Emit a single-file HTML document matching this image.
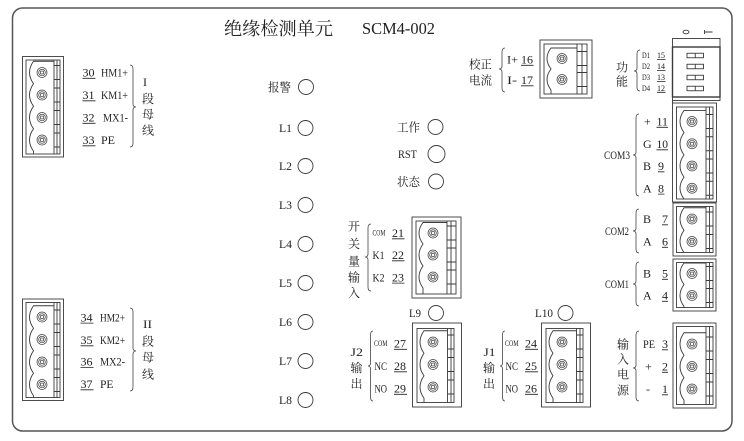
<!DOCTYPE html>
<html><head><meta charset="utf-8"><style>
html,body{margin:0;padding:0;background:#fff;}
svg{display:block;}
text{font-family:"Liberation Serif","Noto Serif CJK SC",serif;fill:#222;font-size:12px;}
.s{font-size:8px;}
.k{text-anchor:middle;}
</style></head><body>
<svg width="744" height="441" viewBox="0 0 744 441" xmlns="http://www.w3.org/2000/svg">
<defs>
<g id="sc" fill="none" stroke="#444" stroke-width="0.75"><circle r="5"/><circle r="3.3"/><rect x="-1.4" y="-1.4" width="2.8" height="2.8"/></g>
</defs>
<rect width="744" height="441" fill="#fff"/>
<rect x="12.5" y="8" width="719.5" height="423" rx="10" fill="none" stroke="#555" stroke-width="1.5"/>
<g fill="none" stroke="#3a3a3a" stroke-width="0.9">
<!-- C1 -->
<rect x="22.5" y="56.5" width="41" height="100.5"/>
<rect x="26" y="60" width="34" height="94"/>
<path d="M54,61.25 L33.5,61.25 Q25.5,72.5 33.5,83.75 Q25.5,95 33.5,106.25 Q25.5,117.5 33.5,128.75 Q25.5,140 33.5,151.25 L33.5,154 M54,60 V154 M57,60 V154 M54,65.5 H60 M54,79.5 H60 M54,88 H60 M54,102 H60 M54,110.5 H60 M54,124.5 H60 M54,133 H60 M54,147 H60"/>
<!-- C2 -->
<rect x="22.5" y="299" width="41" height="101.5"/>
<rect x="26" y="302.5" width="34" height="95"/>
<path d="M54,305.75 L33.5,305.75 Q25.5,317 33.5,328.25 Q25.5,339.5 33.5,350.75 Q25.5,362 33.5,373.25 Q25.5,384.5 33.5,395.75 L33.5,397.5 M54,302.5 V397.5 M57,302.5 V397.5 M54,310 H60 M54,324 H60 M54,332.5 H60 M54,346.5 H60 M54,355 H60 M54,369 H60 M54,377.5 H60 M54,391.5 H60"/>
<!-- C3 -->
<rect x="540" y="40" width="52" height="58"/>
<rect x="544" y="44" width="43" height="50"/>
<path d="M577,48 L551,48 Q543,58.5 551,69 Q543,79.5 551,90 L551,94 M577,44 V94 M582,44 V94 M577,51.5 H587 M577,65.5 H587 M577,72.5 H587 M577,86.5 H587"/>
<!-- C4 -->
<rect x="412" y="217" width="49" height="81"/>
<rect x="416" y="221" width="40" height="73"/>
<path d="M447,222.5 L423,222.5 Q415,233 423,244 Q415,255 423,266 Q415,277 423,288 L423,294 M447,221 V294 M451,221 V294 M447,226 H456 M447,240 H456 M447,248 H456 M447,262 H456 M447,270 H456 M447,284 H456"/>
<!-- C5 J2 -->
<rect x="412.5" y="323" width="49" height="84"/>
<rect x="417" y="328.5" width="37" height="74"/>
<path d="M447.5,330.75 L424,330.75 Q416,342 424,353.25 Q416,364.5 424,375.75 Q416,387 424,398.25 L424,402.5 M447.5,328.5 V402.5 M451,328.5 V402.5 M447.5,335 H454 M447.5,349 H454 M447.5,357.5 H454 M447.5,371.5 H454 M447.5,380 H454 M447.5,394 H454"/>
<!-- C6 J1 -->
<rect x="541.5" y="323" width="49" height="84"/>
<rect x="546" y="328.5" width="37" height="74"/>
<path d="M576.5,330.75 L553,330.75 Q545,342 553,353.25 Q545,364.5 553,375.75 Q545,387 553,398.25 L553,402.5 M576.5,328.5 V402.5 M580,328.5 V402.5 M576.5,335 H583 M576.5,349 H583 M576.5,357.5 H583 M576.5,371.5 H583 M576.5,380 H583 M576.5,394 H583"/>
<!-- C7 COM3 -->
<rect x="672.5" y="103" width="44" height="99"/>
<rect x="676.5" y="107" width="36.5" height="92"/>
<path d="M706,110.4 L684,110.4 Q676,121.5 684,132.6 Q676,143.75 684,154.9 Q676,166 684,177.1 Q676,188.25 684,199 M706,107 V199 M709.5,107 V199 M706,114.5 H713 M706,128.5 H713 M706,136.75 H713 M706,150.75 H713 M706,159 H713 M706,173 H713 M706,181.25 H713 M706,195.25 H713"/>
<!-- C8 COM2 -->
<rect x="673" y="203" width="43" height="53"/>
<rect x="676.5" y="206.5" width="36.5" height="46"/>
<path d="M706,207.75 L684,207.75 Q676,219 684,230.25 Q676,241.5 684,252.5 M706,206.5 V252.5 M709.5,206.5 V252.5 M706,212 H713 M706,226 H713 M706,234.5 H713 M706,248.5 H713"/>
<!-- C9 COM1 -->
<rect x="673" y="259" width="43" height="52"/>
<rect x="676.5" y="262.5" width="36.5" height="45"/>
<path d="M706,263 L684,263 Q676,273.5 684,284.5 Q676,295.5 684,306.5 L684,307.5 M706,262.5 V307.5 M709.5,262.5 V307.5 M706,266.5 H713 M706,280.5 H713 M706,288.5 H713 M706,302.5 H713"/>
<!-- C10 power -->
<rect x="673" y="323" width="43" height="85"/>
<rect x="676.5" y="326.5" width="36.5" height="78"/>
<path d="M706,332.75 L684,332.75 Q676,344 684,355.25 Q676,366.5 684,377.75 Q676,389 684,400.25 L684,404.5 M706,326.5 V404.5 M709.5,326.5 V404.5 M706,337 H713 M706,351 H713 M706,359.5 H713 M706,373.5 H713 M706,382 H713 M706,396 H713"/>
<!-- DIP -->
<rect x="672.5" y="38.5" width="47.5" height="62"/>
<rect x="672.5" y="47" width="47.5" height="50" stroke-width="1.4"/>
<path d="M672.5,100 V103"/>
<rect x="687" y="53.25" width="16.5" height="4.5"/>
<rect x="687" y="64.25" width="16.5" height="4.5"/>
<rect x="687" y="75.25" width="16.5" height="4.5"/>
<rect x="687" y="86.25" width="16.5" height="4.5"/>
<path d="M695.25,53.25 v4.5 M695.25,64.25 v4.5 M695.25,75.25 v4.5 M695.25,86.25 v4.5"/>
<ellipse cx="686" cy="32" rx="3" ry="1.8"/>
<path d="M704.5,32 H712.5 M704.5,30 V34"/>
<!-- LEDs -->
<circle cx="306" cy="87" r="7.5"/>
<circle cx="305.5" cy="128" r="7.5"/>
<circle cx="305.5" cy="166" r="7.5"/>
<circle cx="305.5" cy="205" r="7.5"/>
<circle cx="305.5" cy="244" r="7.5"/>
<circle cx="305.5" cy="283" r="7.5"/>
<circle cx="305.5" cy="322" r="7.5"/>
<circle cx="305.5" cy="361" r="7.5"/>
<circle cx="305.5" cy="400" r="7.5"/>
<circle cx="435.5" cy="127" r="7.5"/>
<circle cx="436.5" cy="154" r="8.5"/>
<circle cx="436" cy="181.5" r="7.5"/>
<circle cx="436" cy="313" r="7.5"/>
<circle cx="565.5" cy="313" r="7.5"/>
</g>
<!-- braces -->
<g fill="none" stroke="#444" stroke-width="0.8">
<path d="M130,65 Q133,65 133,69 V104 Q133,107 136,107 Q133,107 133,110 V143 Q133,147 130,147"/>
<path d="M130,308 Q133,308 133,312 V348 Q133,351 136,351 Q133,351 133,354 V387 Q133,391 130,391"/>
<path d="M505,48 Q502,48 502,52 V66 Q502,69 499,69 Q502,69 502,72 V88 Q502,92 505,92"/>
<path d="M640,50 Q637,50 637,54 V68 Q637,71 634,71 Q637,71 637,74 V87 Q637,91 640,91"/>
<path d="M639,114 Q636,114 636,118 V152 Q636,155 633,155 Q636,155 636,158 V192 Q636,196 639,196"/>
<path d="M639,209 Q636,209 636,213 V228 Q636,231 633,231 Q636,231 636,234 V249 Q636,253 639,253"/>
<path d="M639,262 Q636,262 636,266 V281 Q636,284 633,284 Q636,284 636,287 V302 Q636,306 639,306"/>
<path d="M639,331 Q636,331 636,335 V365 Q636,368 633,368 Q636,368 636,371 V397 Q636,401 639,401"/>
<path d="M371,224 Q368,224 368,228 V254 Q368,257 365,257 Q368,257 368,260 V287 Q368,291 371,291"/>
<path d="M373,331 Q370.5,331 370.5,335 V363 Q370.5,366 368,366 Q370.5,366 370.5,369 V397 Q370.5,401 373,401"/>
<path d="M505,331 Q502.5,331 502.5,335 V363 Q502.5,366 500,366 Q502.5,366 502.5,369 V397 Q502.5,401 505,401"/>
</g>
<!-- screws -->
<use href="#sc" x="42" y="72.5"/><use href="#sc" x="42" y="95"/><use href="#sc" x="42" y="117.5"/><use href="#sc" x="42" y="140"/>
<use href="#sc" x="42" y="317"/><use href="#sc" x="42" y="339.5"/><use href="#sc" x="42" y="362"/><use href="#sc" x="42" y="384.5"/>
<use href="#sc" x="562" y="58.5"/><use href="#sc" x="562" y="79.5"/>
<use href="#sc" x="433" y="233"/><use href="#sc" x="433" y="255"/><use href="#sc" x="433" y="277"/>
<use href="#sc" x="433" y="342"/><use href="#sc" x="433" y="364.5"/><use href="#sc" x="433" y="387"/>
<use href="#sc" x="562" y="342"/><use href="#sc" x="562" y="364.5"/><use href="#sc" x="562" y="387"/>
<use href="#sc" x="692" y="121.5"/><use href="#sc" x="692" y="143.75"/><use href="#sc" x="692" y="166"/><use href="#sc" x="692" y="188.25"/>
<use href="#sc" x="692" y="219"/><use href="#sc" x="692" y="241.5"/>
<use href="#sc" x="692" y="273.5"/><use href="#sc" x="692" y="295.5"/>
<use href="#sc" x="692" y="344"/><use href="#sc" x="692" y="366.5"/><use href="#sc" x="692" y="389"/>
<!-- underlines -->
<g stroke="#222" stroke-width="0.8">
<path d="M82.5,78.3 H95.5 M82.5,100.8 H95.5 M82.5,123.3 H95.5 M82.5,145.8 H95.5"/>
<path d="M80.5,323.1 H93.5 M80.5,345.8 H93.5 M80.5,367.5 H93.5 M80.5,389.8 H93.5"/>
<path d="M521,65.3 H533.5 M521,85.8 H533.5"/>
<path d="M657,59.5 H665.5 M657,70.5 H665.5 M657,81.5 H665.5 M657,92.3 H665.5"/>
<path d="M656.5,127.3 H668 M656.5,149.8 H668 M658,171.8 H664.5 M658,194.1 H664.5"/>
<path d="M662,224.8 H668 M662,247.3 H668 M662,279.3 H668 M662,301.3 H668"/>
<path d="M662,349.8 H668 M662,372.3 H668 M662,394.8 H668"/>
<path d="M392,238.8 H404.5 M392,260.8 H404.5 M392,283.1 H404.5"/>
<path d="M394,349.3 H407 M394,371.8 H407 M394,394.3 H407"/>
<path d="M525,349.3 H538 M525,371.8 H538 M525,394.3 H538"/>
</g>
<!-- title -->
<text x="224" y="35" style="font-size:18px" textLength="109" lengthAdjust="spacingAndGlyphs">绝缘检测单元</text>
<text x="362" y="34" style="font-size:16.5px" textLength="73" lengthAdjust="spacingAndGlyphs">SCM4-002</text>
<!-- left top -->
<text x="82.5" y="76.5">30</text><text x="101" y="76.5" textLength="27" lengthAdjust="spacingAndGlyphs">HM1+</text>
<text x="82.5" y="99">31</text><text x="101" y="99" textLength="27" lengthAdjust="spacingAndGlyphs">KM1+</text>
<text x="82.5" y="121.5">32</text><text x="103" y="121.5" textLength="25" lengthAdjust="spacingAndGlyphs">MX1-</text>
<text x="82.5" y="144">33</text><text x="101" y="144" textLength="14" lengthAdjust="spacingAndGlyphs">PE</text>
<text x="143" y="86">I</text>
<text class="k" x="148" y="103.1">段</text><text class="k" x="148" y="118.6">母</text><text class="k" x="148" y="134.6">线</text>
<!-- left bottom -->
<text x="80.5" y="321.3">34</text><text x="100" y="321.3" textLength="25" lengthAdjust="spacingAndGlyphs">HM2+</text>
<text x="80.5" y="344">35</text><text x="100" y="344" textLength="25" lengthAdjust="spacingAndGlyphs">KM2+</text>
<text x="80.5" y="365.7">36</text><text x="100" y="365.7" textLength="25" lengthAdjust="spacingAndGlyphs">MX2-</text>
<text x="80.5" y="388">37</text><text x="100" y="388" textLength="13.5" lengthAdjust="spacingAndGlyphs">PE</text>
<text x="143" y="328" textLength="9" lengthAdjust="spacingAndGlyphs">II</text>
<text class="k" x="148" y="345.6">段</text><text class="k" x="148" y="361.6">母</text><text class="k" x="148" y="378.6">线</text>
<!-- LED labels -->
<text x="268" y="91.6" textLength="23" lengthAdjust="spacingAndGlyphs">报警</text>
<text x="279" y="132" textLength="13" lengthAdjust="spacingAndGlyphs">L1</text>
<text x="279" y="170" textLength="13" lengthAdjust="spacingAndGlyphs">L2</text>
<text x="279" y="209" textLength="13" lengthAdjust="spacingAndGlyphs">L3</text>
<text x="279" y="248" textLength="13" lengthAdjust="spacingAndGlyphs">L4</text>
<text x="279" y="287" textLength="13" lengthAdjust="spacingAndGlyphs">L5</text>
<text x="279" y="326" textLength="13" lengthAdjust="spacingAndGlyphs">L6</text>
<text x="279" y="365" textLength="13" lengthAdjust="spacingAndGlyphs">L7</text>
<text x="279" y="404" textLength="13" lengthAdjust="spacingAndGlyphs">L8</text>
<text x="397" y="131.6" textLength="23" lengthAdjust="spacingAndGlyphs">工作</text>
<text x="398" y="158" textLength="19" lengthAdjust="spacingAndGlyphs">RST</text>
<text x="397" y="186.1" textLength="23" lengthAdjust="spacingAndGlyphs">状态</text>
<!-- 校正电流 -->
<text x="469" y="68.6" textLength="23" lengthAdjust="spacingAndGlyphs">校正</text>
<text x="469" y="84.6" textLength="23" lengthAdjust="spacingAndGlyphs">电流</text>
<text x="507" y="63.5" textLength="11" lengthAdjust="spacingAndGlyphs">I+</text><text x="521" y="63.5">16</text>
<text x="507" y="84" textLength="10" lengthAdjust="spacingAndGlyphs">I-</text><text x="521" y="84">17</text>
<!-- 功能 -->
<text class="k" x="622" y="71.6">功</text><text class="k" x="622" y="85.6">能</text>
<text class="s" x="642" y="58.2" textLength="8" lengthAdjust="spacingAndGlyphs">D1</text><text class="s" x="657" y="58.2">15</text>
<text class="s" x="642" y="69.2" textLength="8" lengthAdjust="spacingAndGlyphs">D2</text><text class="s" x="657" y="69.2">14</text>
<text class="s" x="642" y="80.2" textLength="8" lengthAdjust="spacingAndGlyphs">D3</text><text class="s" x="657" y="80.2">13</text>
<text class="s" x="642" y="91" textLength="8" lengthAdjust="spacingAndGlyphs">D4</text><text class="s" x="657" y="91">12</text>
<!-- COM3 -->
<text x="604" y="159" textLength="26" lengthAdjust="spacingAndGlyphs">COM3</text>
<text x="644" y="125.5">+</text><text x="656.5" y="125.5" textLength="11.5" lengthAdjust="spacingAndGlyphs">11</text>
<text x="643" y="148">G</text><text x="656.5" y="148" textLength="11.5" lengthAdjust="spacingAndGlyphs">10</text>
<text x="643" y="170">B</text><text x="658" y="170">9</text>
<text x="643" y="192.3">A</text><text x="658" y="192.3">8</text>
<!-- COM2 / COM1 -->
<text x="605" y="235" textLength="24" lengthAdjust="spacingAndGlyphs">COM2</text>
<text x="643" y="223">B</text><text x="662" y="223">7</text>
<text x="643" y="245.5">A</text><text x="662" y="245.5">6</text>
<text x="605" y="288" textLength="24" lengthAdjust="spacingAndGlyphs">COM1</text>
<text x="643" y="277.5">B</text><text x="662" y="277.5">5</text>
<text x="643" y="299.5">A</text><text x="662" y="299.5">4</text>
<!-- power -->
<text class="k" x="623" y="348.6">输</text><text class="k" x="623" y="363.6">入</text><text class="k" x="623" y="378.6">电</text><text class="k" x="623" y="394.6">源</text>
<text x="643" y="348" textLength="12" lengthAdjust="spacingAndGlyphs">PE</text><text x="662" y="348">3</text>
<text x="645" y="370.5">+</text><text x="662" y="370.5">2</text>
<text x="646" y="393">-</text><text x="662" y="393">1</text>
<!-- 开关量输入 -->
<text class="k" x="354" y="230.6">开</text><text class="k" x="354" y="248.1">关</text><text class="k" x="354" y="265.6">量</text><text class="k" x="354" y="281.6">输</text><text class="k" x="354" y="297.1">入</text>
<text class="s" x="372.5" y="235.7" textLength="13" lengthAdjust="spacingAndGlyphs">COM</text><text x="392" y="237">21</text>
<text x="372.5" y="259" textLength="12" lengthAdjust="spacingAndGlyphs">K1</text><text x="392" y="259">22</text>
<text x="372.5" y="281.3" textLength="12" lengthAdjust="spacingAndGlyphs">K2</text><text x="392" y="281.3">23</text>
<!-- J2 -->
<text x="350.5" y="356" textLength="12.5" lengthAdjust="spacingAndGlyphs">J2</text>
<text class="k" x="356.5" y="372.1">输</text><text class="k" x="356.5" y="387.9">出</text>
<text class="s" x="374" y="346" textLength="13.5" lengthAdjust="spacingAndGlyphs">COM</text><text x="394" y="347.5">27</text>
<text x="374.5" y="370" textLength="12.5" lengthAdjust="spacingAndGlyphs">NC</text><text x="394" y="370">28</text>
<text x="374.5" y="392.5" textLength="12.5" lengthAdjust="spacingAndGlyphs">NO</text><text x="394" y="392.5">29</text>
<text x="409" y="317" textLength="12" lengthAdjust="spacingAndGlyphs">L9</text>
<!-- J1 -->
<text x="483.5" y="356" textLength="12" lengthAdjust="spacingAndGlyphs">J1</text>
<text class="k" x="489" y="372.1">输</text><text class="k" x="489" y="387.9">出</text>
<text class="s" x="505" y="346" textLength="13.5" lengthAdjust="spacingAndGlyphs">COM</text><text x="525" y="347.5">24</text>
<text x="505.5" y="370" textLength="12.5" lengthAdjust="spacingAndGlyphs">NC</text><text x="525" y="370">25</text>
<text x="505.5" y="392.5" textLength="12.5" lengthAdjust="spacingAndGlyphs">NO</text><text x="525" y="392.5">26</text>
<text x="535" y="317" textLength="18" lengthAdjust="spacingAndGlyphs">L10</text>
</svg>
</body></html>
